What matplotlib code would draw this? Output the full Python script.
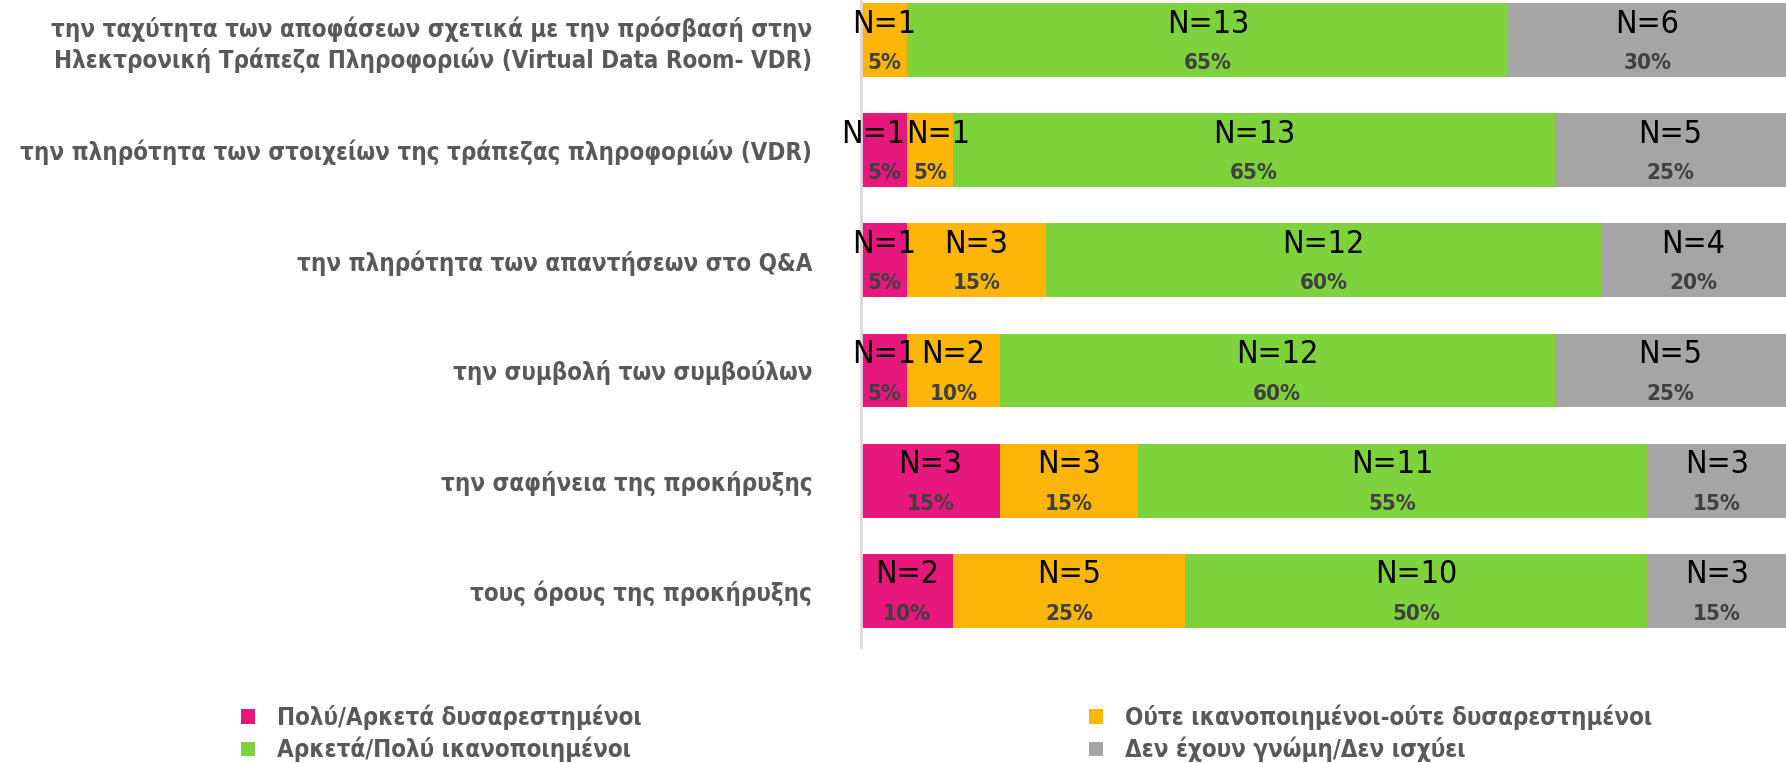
import matplotlib
matplotlib.use("Agg")
import matplotlib.pyplot as plt
from matplotlib.patches import Patch

categories = [
    "την ταχύτητα των αποφάσεων σχετικά με την πρόσβασή στην\nΗλεκτρονική Τράπεζα Πληροφοριών (Virtual Data Room- VDR)",
    "την πληρότητα των στοιχείων της τράπεζας πληροφοριών (VDR)",
    "την πληρότητα των απαντήσεων στο Q&A",
    "την συμβολή των συμβούλων",
    "την σαφήνεια της προκήρυξης",
    "τους όρους της προκήρυξης",
]
series_names = [
    "Πολύ/Αρκετά δυσαρεστημένοι",
    "Ούτε ικανοποιημένοι-ούτε δυσαρεστημένοι",
    "Αρκετά/Πολύ ικανοποιημένοι",
    "Δεν έχουν γνώμη/Δεν ισχύει",
]
dissatisfied = [0, 1, 1, 1, 3, 2]
neutral = [1, 1, 3, 2, 3, 5]
satisfied = [13, 13, 12, 12, 11, 10]
no_opinion = [6, 5, 4, 5, 3, 3]
colors = ["#E8177D", "#FDB508", "#7ED33C", "#A5A5A5"]

series = [dissatisfied, neutral, satisfied, no_opinion]
totals = [sum(v) for v in zip(*series)]

FAM = ["DejaVu Sans"]
fig = plt.figure(figsize=(17.86, 7.63), dpi=100)
ax = fig.add_axes([0.482, 0.152, 0.518, 0.848])

ypos = list(range(len(categories)))
n = len(categories)
left = [0.0] * n
rows = [[] for _ in range(n)]
for vals, col in zip(series, colors):
    pct = [v / t * 100 for v, t in zip(vals, totals)]
    ax.barh(ypos, pct, left=left, height=0.67, color=col, edgecolor="none")
    for y, v, p, l in zip(ypos, vals, pct, left):
        if v > 0:
            c = l + p / 2
            rows[y].append([c, c, p, v])  # N-label x, pct-label x
    left = [a + b for a, b in zip(left, pct)]

# nudge N labels of two adjacent narrow segments apart
for r in rows:
    for i in range(len(r) - 1):
        if r[i][2] <= 5 and r[i + 1][2] <= 5:
            r[i][0] -= 1.2
            r[i + 1][0] += 0.8

for y, r in enumerate(rows):
    for nx, px, p, v in r:
        ax.text(nx, y - 0.145, f"N={v}", ha="center", va="center",
                fontsize=23, color="black", family=FAM, fontstretch="condensed")
        ax.text(px, y + 0.21, f"{round(p)}%", ha="center", va="center",
                fontsize=16, color="#404040", fontweight="bold", family=FAM,
                fontstretch="condensed")

ax.set_xlim(0, 100)
ax.set_ylim(5.51, -0.363)
ax.set_yticks(ypos)
ax.set_yticklabels(categories, fontsize=17.3, fontweight="bold", color="#595959",
                   family=FAM, fontstretch="condensed", linespacing=1.25)
for t in ax.get_yticklabels():
    t.set_horizontalalignment("right")
ax.tick_params(axis="y", length=0, pad=35)
ax.set_xticks([])
for s in ["top", "right", "bottom"]:
    ax.spines[s].set_visible(False)
ax.spines["left"].set_color("#D9D9D9")
ax.spines["left"].set_linewidth(2)

h = [Patch(facecolor=c, edgecolor="none") for c in colors]
leg_kw = dict(frameon=False, handlelength=0.58, handleheight=0.58,
              handletextpad=0.9, labelspacing=0.3, borderpad=0, borderaxespad=0,
              loc="upper left",
              prop=dict(family=FAM, weight="bold", size=17.3, stretch="condensed"))
l1 = fig.legend([h[0], h[2]], [series_names[0], series_names[2]],
                bbox_to_anchor=(0.135, 0.077), **leg_kw)
l2 = fig.legend([h[1], h[3]], [series_names[1], series_names[3]],
                bbox_to_anchor=(0.610, 0.077), **leg_kw)
for lg in (l1, l2):
    for t in lg.get_texts():
        t.set_color("#595959")

fig.savefig("out.png", dpi=100)
